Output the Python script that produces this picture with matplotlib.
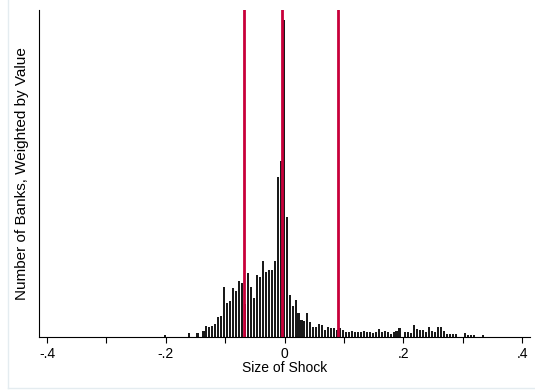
import numpy as np
import matplotlib
matplotlib.use("Agg")
import matplotlib.pyplot as plt

plt.rcParams['font.family'] = ['Liberation Sans', 'DejaVu Sans']

# histogram of shock sizes, bins of width .005 starting at the minimum shock
bin_left = -0.2042
bin_width = 0.005
# weighted counts per bin (no scale shown on the y axis)
weighted_counts = [
    2, 0, 0, 0, 0, 0, 0, 0, 4, 0,
    0, 4, 0, 6, 11, 10, 11, 13, 20, 21,
    50, 34, 36, 49, 46, 56, 54, 33, 64, 50,
    39, 62, 60, 76, 65, 67, 67, 76, 160, 176,
    317, 120, 42, 31, 37, 24, 17, 16, 24, 15,
    10, 10, 13, 12, 7, 10, 9, 9, 7, 9,
    7, 5.5, 5.5, 6.5, 5, 5, 5, 6, 5, 5,
    4, 5, 8, 5, 6.5, 5, 3, 5.5, 6.5, 9,
    0, 5, 5.5, 4, 12, 8, 7, 7, 5.5, 10,
    6, 5, 10, 10, 6, 3, 3, 3, 3, 0,
    0, 4, 2.5, 2.5, 2.5, 0, 0, 2.5,
]
# vertical reference lines
ref_lines = [-0.069, -0.0045, 0.0895]
tick_vals = [-0.4, -0.3, -0.2, -0.1, 0.0, 0.1, 0.2, 0.3, 0.4]
tick_labels = ['-.4', '', '-.2', '', '0', '', '.2', '', '.4']

fig = plt.figure(figsize=(5.35, 3.92), dpi=100)
ax = fig.add_axes([39 / 535, 55 / 392, 491 / 535, 327 / 392])

centers = bin_left + bin_width / 2 + bin_width * np.arange(len(weighted_counts))
ax.bar(centers, weighted_counts, width=0.0035, color='#1a1a1a', linewidth=0)

for x in ref_lines:
    ax.axvline(x, color='#c8003a', linewidth=2.0, zorder=3)

ax.set_xlim(-0.4136, 0.413)
ax.set_ylim(0, 327)
ax.set_xticks(tick_vals)
ax.set_xticklabels(tick_labels, fontsize=10)
ax.set_yticks([])
ax.tick_params(axis='x', length=4, width=0.8, pad=3)
for s in ['top', 'right']:
    ax.spines[s].set_visible(False)
for s in ['left', 'bottom']:
    ax.spines[s].set_linewidth(0.8)

ax.set_xlabel('Size of Shock', fontsize=10, labelpad=0)
ax.set_ylabel('Number of Banks, Weighted by Value', fontsize=11, labelpad=7)

# faint outline of the graph region (left and bottom edges visible)
fig.add_artist(plt.Line2D([8 / 535, 8 / 535], [4 / 392, 1], color='#e4ecf0', lw=1))
fig.add_artist(plt.Line2D([8 / 535, 1], [4 / 392, 4 / 392], color='#e4ecf0', lw=1))

plt.savefig('out.png', dpi=100)
